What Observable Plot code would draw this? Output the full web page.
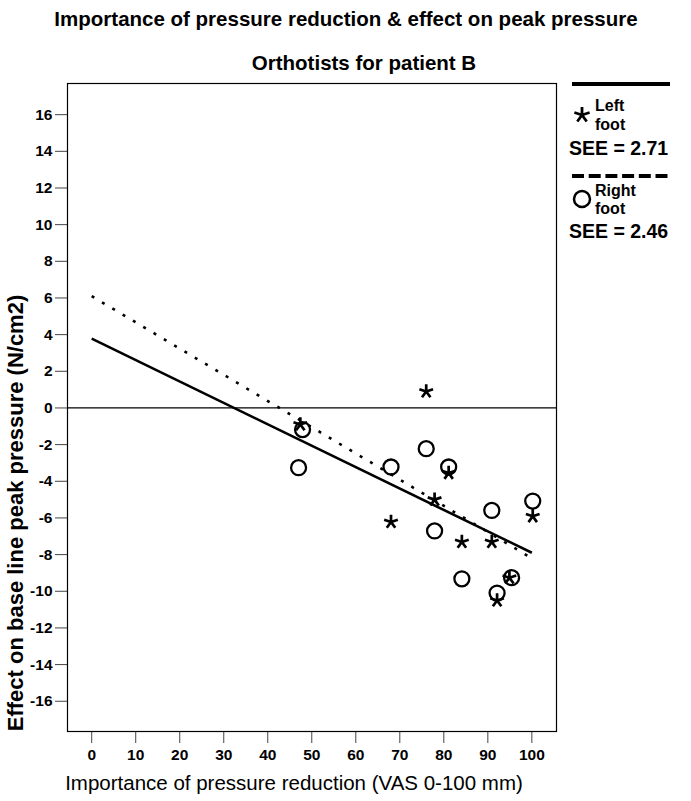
<!DOCTYPE html>
<html>
<head>
<meta charset="utf-8">
<script src="https://cdn.jsdelivr.net/npm/d3@7"></script>
<script src="https://cdn.jsdelivr.net/npm/@observablehq/plot@0.6"></script>
<style>
  html, body { margin: 0; padding: 0; background: #fff; }
  #wrap { position: relative; width: 691px; height: 801px; font-family: "Liberation Sans", Arial, sans-serif; }
  #wrap svg { position: absolute; left: 0; top: 0; }
  #wrap svg g[aria-label$="tick label"] text,
  #wrap svg g[aria-label$="tick label"] { font-size: 15.5px !important; font-weight: bold !important; font-family: "Liberation Sans", Arial, sans-serif !important; fill: #000; }
  #overlay text { font-family: "Liberation Sans", Arial, sans-serif; fill: #000; }
</style>
</head>
<body>
<div id="wrap"></div>
<script>
// ---- data ----
const leftX  = [76, 47.4, 81.1, 77.9, 68, 84.1, 90.9, 100.2, 94.9, 92.1];
const leftY  = [0.9, -0.9, -3.55, -5.0, -6.22, -7.31, -7.31, -5.91, -9.26, -10.5];
const rightX = [47.9, 47.0, 76.0, 68.0, 81.1, 77.9, 90.9, 100.2, 84.1, 95.4, 92.1];
const rightY = [-1.18, -3.26, -2.22, -3.22, -3.22, -6.71, -5.59, -5.08, -9.32, -9.26, -10.1];

// fit lines: x extent and end values
const fitX = [0, 100];
const solidFitY = [3.78, -7.9];
const dottedFitY = [6.1, -8.2];

const xTicks = [0, 10, 20, 30, 40, 50, 60, 70, 80, 90, 100];
const yTicks = [-16, -14, -12, -10, -8, -6, -4, -2, 0, 2, 4, 6, 8, 10, 12, 14, 16];

const titleText = "Importance of pressure reduction & effect on peak pressure";
const subtitleText = "Orthotists for patient B";
const xLabel = "Importance of pressure reduction (VAS 0-100 mm)";
const yLabel = "Effect on base line peak pressure (N/cm2)";
const legendLabels = [["Left", "foot"], ["Right", "foot"]];
const legendSEE = ["SEE = 2.71", "SEE = 2.46"];

// ---- derived tables ----
const stars = leftX.map((x, i) => ({x, y: leftY[i]}));
const circles = rightX.map((x, i) => ({x, y: rightY[i]}));
const solidFit = fitX.map((x, i) => ({x, y: solidFitY[i]}));
const dottedFit = fitX.map((x, i) => ({x, y: dottedFitY[i]}));

// five-armed asterisk symbol
const star5 = {
  draw(ctx, size) {
    const r = Math.sqrt(size / Math.PI);
    for (let i = 0; i < 5; i++) {
      const a = -Math.PI / 2 + i * 2 * Math.PI / 5;
      ctx.moveTo(0, 0);
      ctx.lineTo(r * Math.cos(a), r * Math.sin(a));
    }
  }
};

const W = 691, H = 801;
const tickFont = {fontSize: 15.5, fontWeight: "bold", fill: "#000"};
const chart = Plot.plot({
  width: W,
  height: H,
  marginLeft: 67,
  marginRight: 135,
  marginTop: 83,
  marginBottom: 70,
  style: {fontFamily: "Liberation Sans, Arial, sans-serif", background: "#fff", color: "#000"},
  x: {domain: [-5.5, 105.6]},
  y: {domain: [-17.65, 17.7]},
  marks: [
    Plot.ruleY([0], {stroke: "#000", strokeWidth: 1.2}),
    Plot.line(solidFit, {x: "x", y: "y", stroke: "#000", strokeWidth: 2.6, strokeLinecap: "butt"}),
    Plot.line(dottedFit, {x: "x", y: "y", stroke: "#000", strokeWidth: 2.6, strokeLinecap: "butt", strokeDasharray: "3,9"}),
    Plot.dot(circles, {x: "x", y: "y", r: 7.5, stroke: "#000", strokeWidth: 2.3, fill: "none"}),
    Plot.dot(stars, {x: "x", y: "y", r: 7.2, symbol: star5, stroke: "#000", strokeWidth: 2.7}),
    Plot.axisX({ticks: xTicks, tickSize: 12, tickPadding: 5, label: null, stroke: "#444", tickFormat: d => String(d), ...tickFont}),
    Plot.axisY({ticks: yTicks, tickSize: 12, tickPadding: 3, label: null, stroke: "#444", tickFormat: d => String(d), ...tickFont}),
    Plot.frame({stroke: "#000", strokeWidth: 1.2})
  ]
});
document.getElementById("wrap").appendChild(chart);

// ---- overlay: titles, axis labels, legend ----
const ov = d3.select("#wrap").append("svg")
  .attr("id", "overlay").attr("width", W).attr("height", H);

ov.append("text").attr("x", 346).attr("y", 26).attr("text-anchor", "middle")
  .style("font-weight", "bold").style("font-size", "20.5px").text(titleText);
ov.append("text").attr("x", 364).attr("y", 70).attr("text-anchor", "middle")
  .style("font-weight", "bold").style("font-size", "20.5px").text(subtitleText);
ov.append("text").attr("x", 294).attr("y", 790).attr("text-anchor", "middle")
  .style("font-size", "20.5px").text(xLabel);
ov.append("text").attr("transform", "translate(23,513) rotate(-90)").attr("text-anchor", "middle")
  .style("font-weight", "bold").style("font-size", "22px").text(yLabel);

// legend
const lg = ov.append("g");
lg.append("line").attr("x1", 572).attr("x2", 670).attr("y1", 84).attr("y2", 84)
  .attr("stroke", "#000").attr("stroke-width", 4);
lg.append("path").attr("transform", "translate(582,115)")
  .attr("d", d3.symbol(star5, 8 * 8 * Math.PI)())
  .attr("stroke", "#000").attr("stroke-width", 2.8).attr("fill", "none");
lg.append("text").attr("x", 595).attr("y", 111).style("font-weight", "bold").style("font-size", "16px").text(legendLabels[0][0]);
lg.append("text").attr("x", 595).attr("y", 130).style("font-weight", "bold").style("font-size", "16px").text(legendLabels[0][1]);
lg.append("text").attr("x", 569).attr("y", 155).style("font-weight", "bold").style("font-size", "19.5px").text(legendSEE[0]);

lg.append("line").attr("x1", 572).attr("x2", 670).attr("y1", 176).attr("y2", 176)
  .attr("stroke", "#000").attr("stroke-width", 4).attr("stroke-dasharray", "12,4.7");
lg.append("circle").attr("cx", 582).attr("cy", 199).attr("r", 8)
  .attr("stroke", "#000").attr("stroke-width", 2.5).attr("fill", "none");
lg.append("text").attr("x", 595).attr("y", 196).style("font-weight", "bold").style("font-size", "16px").text(legendLabels[1][0]);
lg.append("text").attr("x", 595).attr("y", 214).style("font-weight", "bold").style("font-size", "16px").text(legendLabels[1][1]);
lg.append("text").attr("x", 569).attr("y", 238).style("font-weight", "bold").style("font-size", "19.5px").text(legendSEE[1]);
</script>
</body>
</html>
